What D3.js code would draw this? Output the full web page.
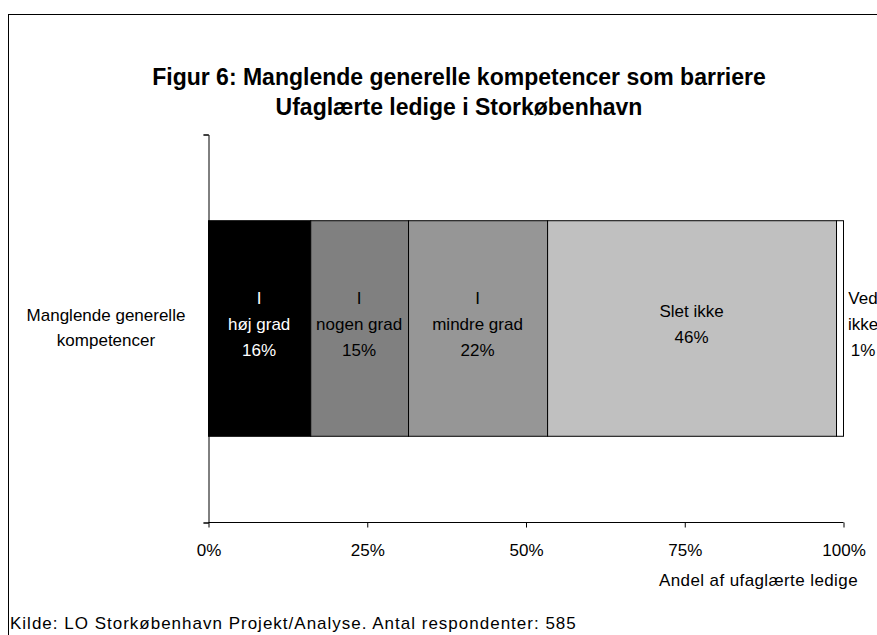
<!DOCTYPE html>
<html>
<head>
<meta charset="utf-8">
<script src="https://cdn.jsdelivr.net/npm/d3@7"></script>
<style>
  body { margin: 0; background: #fff; }
  svg { display: block; font-family: "Liberation Sans", Arial, sans-serif; }
</style>
</head>
<body>
<svg id="chart" width="877" height="635"></svg>
<script>
  var categories = ["Manglende generelle kompetencer"];
  var seriesNames = [["I", "høj grad"], ["I", "nogen grad"], ["I", "mindre grad"], ["Slet ikke"], ["Ved", "ikke"]];
  var seriesValues = [16.1, 15.4, 21.9, 45.5, 1.1];
  var seriesColors = ["#000000", "#808080", "#969696", "#c0c0c0", "#ffffff"];
  var labelColors = ["#ffffff", "#000000", "#000000", "#000000", "#000000"];
  var xTicks = [0, 25, 50, 75, 100];

  var svg = d3.select("#chart");

  // frame
  svg.append("rect")
     .attr("x", 8.5).attr("y", 14.5)
     .attr("width", 900).attr("height", 700)
     .attr("fill", "none").attr("stroke", "#000");

  // title
  var title = svg.append("text")
     .attr("text-anchor", "middle")
     .attr("font-weight", "bold")
     .attr("font-size", 23);
  title.append("tspan").attr("x", 459).attr("y", 85).text("Figur 6: Manglende generelle kompetencer som barriere");
  title.append("tspan").attr("x", 459).attr("y", 115).text("Ufaglærte ledige i Storkøbenhavn");

  var x = d3.scaleLinear().domain([0, 100]).range([208, 843]);
  var y = d3.scaleBand().domain(categories).range([134, 522]).paddingInner(0).paddingOuter(0.4);

  // stacked segments
  var stacked = [];
  var acc = 0;
  seriesValues.forEach(function(v, i){
    stacked.push({start: acc, end: acc + v, value: v, i: i});
    acc += v;
  });

  var g = svg.append("g");
  g.selectAll("rect")
   .data(stacked)
   .enter()
   .append("rect")
   .attr("x", function(d){ return x(d.start) + 0.5; })
   .attr("y", y(categories[0]) + 0.5)
   .attr("width", function(d){ return x(d.end) - x(d.start); })
   .attr("height", y.bandwidth())
   .attr("fill", function(d){ return seriesColors[d.i]; })
   .attr("stroke", "#000");

  // segment labels
  var mid = y(categories[0]) + y.bandwidth() / 2;
  var lineH = 26;
  stacked.forEach(function(d){
    var lines = seriesNames[d.i].concat([Math.round(d.value) + "%"]);
    var cx = d.i === 4 ? x(d.end) + 20 : (x(d.start) + x(d.end)) / 2;
    var t = g.append("text")
       .attr("text-anchor", "middle")
       .attr("font-size", 17)
       .attr("fill", labelColors[d.i]);
    var top = mid - (lines.length - 1) * lineH / 2 + 2;
    lines.forEach(function(s, k){
      t.append("tspan").attr("x", cx).attr("y", top + k * lineH).text(s);
    });
  });

  // axes
  var xAxis = d3.axisBottom(x)
     .tickValues(xTicks)
     .tickSize(5)
     .tickPadding(16)
     .tickFormat(function(d){ return d + "%"; });
  var xa = svg.append("g")
     .attr("transform", "translate(0.5,522.5)")
     .call(xAxis);
  xa.select(".domain").attr("d", "M" + x(0) + ",0H" + x(100));
  xa.selectAll("text").attr("font-size", 17).attr("font-family", "Liberation Sans, Arial, sans-serif").attr("fill", "#000");
  xa.selectAll("line, path").attr("stroke", "#000");

  var yEdge = d3.scaleLinear().domain([0, 1]).range([522, 134]);
  var ya = svg.append("g")
     .attr("transform", "translate(208.5,0.5)")
     .call(d3.axisLeft(yEdge).tickValues([0, 1]).tickSize(5).tickFormat(""));
  ya.selectAll("line, path").attr("stroke", "#000");

  // category label
  var cl = svg.append("text").attr("text-anchor", "middle").attr("font-size", 17);
  cl.append("tspan").attr("x", 106).attr("y", mid - 7).text("Manglende generelle");
  cl.append("tspan").attr("x", 106).attr("y", mid + 18).text("kompetencer");

  // axis title
  svg.append("text")
     .attr("x", 858).attr("y", 586)
     .attr("text-anchor", "end")
     .attr("font-size", 17)
     .attr("letter-spacing", 0.4)
     .text("Andel af ufaglærte ledige");

  // source
  svg.append("text")
     .attr("x", 10).attr("y", 629)
     .attr("font-size", 17)
     .attr("letter-spacing", 1)
     .text("Kilde: LO Storkøbenhavn Projekt/Analyse. Antal respondenter: 585");
</script>
</body>
</html>
